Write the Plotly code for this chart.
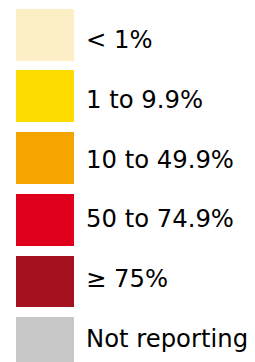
import plotly.graph_objects as go

# Data
categories = ["< 1%", "1 to 9.9%", "10 to 49.9%", "50 to 74.9%", "\u2265 75%", "Not reporting"]
swatch_colors = ["#FCEFC5", "#FFDC00", "#F4A500", "#E1001C", "#A5111E", "#C8C8C8"]
swatch_values = [1, 1, 1, 1, 1, 1]

W, H = 255, 362
idx = list(range(len(categories)))

fig = go.Figure()
fig.add_trace(go.Bar(
    x=swatch_values,
    y=idx,
    orientation="h",
    width=0.84,
    marker=dict(color=swatch_colors, line=dict(width=0)),
    hoverinfo="skip",
    showlegend=False,
))

for i, label in enumerate(categories):
    fig.add_annotation(
        x=1, xref="paper", xanchor="left", xshift=10,
        y=i, yref="y", yanchor="middle", yshift=-(5.0 - 2.0 * i),
        text=label, showarrow=False,
        font=dict(family="DejaVu Sans", size=24.3, color="#000000"),
    )

fig.update_layout(
    width=W, height=H,
    margin=dict(l=16, r=W - 74, t=0, b=0),
    paper_bgcolor="white", plot_bgcolor="white",
    bargap=0,
    xaxis=dict(range=[0, 1], visible=False, fixedrange=True),
    yaxis=dict(range=[5.305, -0.562], visible=False, fixedrange=True),
)

fig.write_html(
    "out.html",
    config={"displayModeBar": False},
    post_script="document.body.style.margin='0';document.body.style.overflow='hidden';",
)
